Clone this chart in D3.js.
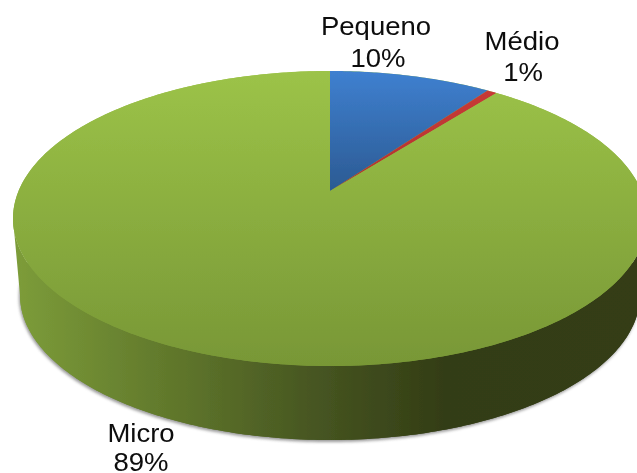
<!DOCTYPE html>
<html><head><meta charset="utf-8">
<script src="https://cdn.jsdelivr.net/npm/d3@7"></script>
<style>html,body{margin:0;padding:0;background:#fff;overflow:hidden}svg{display:block}text{font-family:"Liberation Sans",Arial,sans-serif;fill:#0a0a0a}</style>
</head><body><svg id="c" width="637" height="473"></svg>
<script>
// Data
const categories = ["Micro", "Pequeno", "Médio"];
const values = [89.5, 9.9, 0.6];
const percentLabels = ["89%", "10%", "1%"];
const sliceTop = ["#9cc348", "#3f80d0", "#cc3b38"];
const sliceBottom = ["#789736", "#2b5a92", "#b03230"];
const gradientEndY = [366, 192, 192];

const W = 637, H = 473;
const svg = d3.select("#c");
const defs = svg.append("defs");

// Tilted disc geometry: unit circle -> pixels via projective foreshortening
const tilt = 0.186;
const xTop = d3.scaleLinear().domain([-1, 1]).range([13, 647]);
const yTop = d3.scaleLinear().domain([-1, 1]).range([366, 71]);
const xBase = d3.scaleLinear().domain([-1, 1]).range([20, 640]);
const yBase = d3.scaleLinear().domain([-1, 1]).range([440, 150]);
const apex = () => [xTop(0), yTop(tilt)];

function project(a) {
  const s = Math.sin(a), c = Math.cos(a), d = 1 + tilt * c;
  return [xTop(s * Math.sqrt(1 - tilt * tilt) / d), yTop((c + tilt) / d)];
}
const line = d3.line();

// Ordered so slices run clockwise from 12 o'clock: Pequeno, Médio, Micro
const order = [1, 2, 0];
const pie = d3.pie().sort(null).value(i => values[i]);
const arcs = pie(order);

function grad(id, x1, y1, x2, y2, stops) {
  const g = defs.append("linearGradient").attr("id", id).attr("gradientUnits", "userSpaceOnUse")
    .attr("x1", x1).attr("y1", y1).attr("x2", x2).attr("y2", y2);
  stops.forEach(s => g.append("stop").attr("offset", s[0]).attr("stop-color", s[1]));
}
grad("side", 13, 0, 647, 0, [[0, "#7d9d3a"], [0.2, "#667f2e"], [0.48, "#465521"], [0.68, "#333d15"], [1, "#343e16"]]);
order.forEach(k => grad("top" + k, 0, 71, 0, gradientEndY[k], [[0, sliceTop[k]], [1, sliceBottom[k]]]));

const soft = defs.append("filter").attr("id", "soft").attr("x", "-5%").attr("y", "-5%").attr("width", "110%").attr("height", "110%");
soft.append("feGaussianBlur").attr("stdDeviation", 0.45);
const shadowBlur = defs.append("filter").attr("id", "shadowBlur").attr("x", "-5%").attr("y", "-5%").attr("width", "110%").attr("height", "110%");
shadowBlur.append("feGaussianBlur").attr("stdDeviation", 1.4);

const full = d3.range(0, 361, 1).map(d => d * Math.PI / 180);
const sidePts = full.map(a => [xBase(Math.sin(a)), yBase(Math.cos(a))]);
const topRim = full.map(a => [xTop(Math.sin(a)), yTop(Math.cos(a))]);
// Body between the top rim's lower half and the base outline
const lower = d3.range(90, 271, 1).map(d => d * Math.PI / 180);
const bodyPts = lower.map(a => [xTop(Math.sin(a)), yTop(Math.cos(a))])
  .concat(lower.slice().reverse().map(a => [xBase(Math.sin(a)), yBase(Math.cos(a))]));

// Shadow under the side wall
svg.append("path").attr("d", line(sidePts) + "Z").attr("transform", "translate(-1,2)")
  .attr("fill", "#777").attr("opacity", 0.75).attr("filter", "url(#shadowBlur)");

const disc = svg.append("g").attr("filter", "url(#soft)");
disc.append("path").attr("d", line(sidePts) + "Z").attr("fill", "url(#side)");
disc.append("path").attr("d", line(bodyPts) + "Z").attr("fill", "url(#side)");
disc.append("path").attr("d", line(topRim) + "Z").attr("fill", "url(#top0)");

disc.selectAll("path.slice").data(arcs).join("path").attr("class", "slice")
  .attr("d", d => {
    const n = Math.max(2, Math.ceil((d.endAngle - d.startAngle) * 90));
    const pts = d3.range(n + 1).map(i => project(d.startAngle + (d.endAngle - d.startAngle) * i / n));
    return line([apex(), ...pts]) + "Z";
  })
  .attr("fill", d => "url(#top" + d.data + ")");

// Labels: anchor per category (name baseline, percent baseline)
const labelX = [141, 376, 522];
const nameY = [442, 35, 50];
const pctX = [141, 378, 523];
const pctY = [471, 67, 81];
const stretch = 1.1, fontSize = 25;
const labels = svg.append("g").attr("filter", "url(#soft)");
categories.forEach((c, i) => {
  labels.append("text").attr("transform", `translate(${labelX[i]},${nameY[i]}) scale(${stretch},1)`)
    .attr("text-anchor", "middle").attr("font-size", fontSize).text(c);
  labels.append("text").attr("transform", `translate(${pctX[i]},${pctY[i]}) scale(${stretch},1)`)
    .attr("text-anchor", "middle").attr("font-size", fontSize).text(percentLabels[i]);
});
</script></body></html>
